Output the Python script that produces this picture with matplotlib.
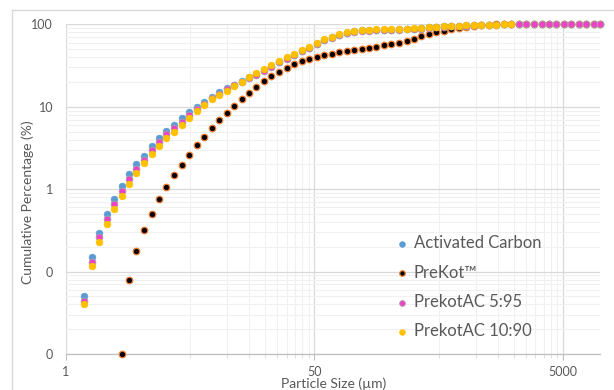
import matplotlib.pyplot as plt
from matplotlib.ticker import FixedLocator, FixedFormatter, NullFormatter
from matplotlib.lines import Line2D

plt.rcParams["font.family"] = ["Lato", "DejaVu Sans"]

size_um = [0.705, 0.814, 0.932, 1.066, 1.23, 1.409, 1.617, 1.851, 2.136, 2.46,
           2.822, 3.232, 3.729, 4.271, 4.891, 5.641, 6.462, 7.455, 8.54, 9.85,
           11.28, 13.01, 14.9, 17.1, 19.69, 22.59, 26.02, 29.85, 34.18, 39.43,
           45.14, 52.09, 59.98, 68.82, 79.25, 91.44, 104.1, 120.1, 137.6, 157.5,
           180.8, 208.2, 240.3, 277.2, 317.3, 363.4, 416.9, 477.5, 550.8, 630.6,
           727.7, 833.5, 961.4, 1101, 1261, 1455, 1666, 1921, 2200, 2538,
           2907, 3354, 3841, 4407, 5075, 5824, 6707, 7691, 8858, 10000]

activated_carbon = [0.0502, 0.148, 0.296, 0.499, 0.753, 1.094, 1.531, 2.01, 2.56, 3.33,
                    4.20, 5.11, 6.04, 7.35, 8.69, 10.0, 11.4, 13.1, 15.1, 17.0,
                    18.5, 20.5, 22.8, 24.9, 27.7, 31.0, 35.1, 38.7, 42.6, 47.6,
                    52.3, 58.5, 64.5, 69.6, 75.1, 79.0, 82.2, 84.7, 85.4, 86.3,
                    86.4, 86.6, 87.0, 88.1, 88.5, 90.0, 91.9, 93.6, 95.5, 96.0,
                    96.4, 97.5, 98.4, 98.8, 99.3, 99.7, 100, 100, 100, 100,
                    100, 100, 100, 100, 100, 100, 100, 100, 100, 100]

# PreKot starts at the 6th size class
prekot = [0.01, 0.0794, 0.177, 0.316, 0.505, 0.753, 1.076, 1.475, 1.97, 2.60,
          3.39, 4.32, 5.51, 6.89, 8.45, 10.2, 12.3, 14.6, 17.2, 20.4,
          23.4, 26.7, 29.8, 32.8, 35.8, 38.0, 40.6, 42.6, 44.1, 45.9,
          47.2, 49.0, 50.4, 52.2, 53.7, 55.8, 57.9, 60.1, 63.5, 67.2,
          71.4, 75.5, 79.9, 84.1, 87.4, 90.6, 93.2, 95.9, 97.8, 99.2,
          99.8, 100, 100, 100, 100, 100, 100, 100, 100, 100,
          100, 100, 100, 100, 100]

prekotac_5_95 = [0.044, 0.132, 0.260, 0.439, 0.668, 0.962, 1.34, 1.77, 2.29, 2.98,
                 3.74, 4.61, 5.45, 6.61, 7.96, 9.38, 10.9, 12.7, 14.4, 16.3,
                 18.2, 20.2, 22.4, 24.6, 27.5, 30.8, 35.0, 38.5, 42.3, 47.2,
                 51.9, 58.1, 64.0, 69.0, 74.4, 78.0, 81.0, 83.4, 84.2, 85.1,
                 85.1, 85.3, 85.7, 86.9, 87.3, 88.8, 90.6, 92.2, 94.1, 94.8,
                 95.5, 96.8, 97.8, 98.4, 99.1, 99.6, 100, 100, 100, 100,
                 100, 100, 100, 100, 100, 100, 100, 100, 100, 100]

prekotac_10_90 = [0.0398, 0.118, 0.228, 0.378, 0.581, 0.836, 1.17, 1.55, 2.05, 2.66,
                  3.33, 4.16, 4.92, 5.94, 7.29, 8.79, 10.4, 12.3, 13.8, 15.7,
                  17.9, 20.0, 22.8, 25.5, 28.5, 31.9, 36.3, 39.9, 43.8, 48.9,
                  53.7, 60.1, 66.1, 71.1, 76.6, 80.4, 83.4, 85.8, 86.5, 87.4,
                  87.4, 87.5, 87.8, 88.9, 89.2, 90.6, 92.4, 94.0, 95.9, 96.3,
                  96.7, 97.8, 98.6, 98.9, 99.4, 99.7, 100, 100]

x_major = [0.5, 50, 5000]
x_major_labels = ["1", "50", "5000"]
x_minor = [5, 10, 15, 20, 25, 30, 35, 40, 45,
           500, 1000, 1500, 2000, 2500, 3000, 3500, 4000, 4500]
y_major = [0.01, 0.1, 1, 10, 100]
y_major_labels = ["0", "0", "1", "10", "100"]

W, H = 614, 390
fig = plt.figure(figsize=(W / 100, H / 100), dpi=100)
left, right, top, bottom = 65.7, 600.5, 24.4, 353.9
ax = fig.add_axes([left / W, 1 - bottom / H, (right - left) / W, (bottom - top) / H])

# chart area border (Excel style), cut by the image edge on the right/bottom
fig.add_artist(Line2D([11.7 / W, 11.7 / W], [0, 1 - 10.3 / H], transform=fig.transFigure,
                      color="#D9D9D9", lw=1.0))
fig.add_artist(Line2D([11.7 / W, 1], [1 - 10.3 / H, 1 - 10.3 / H], transform=fig.transFigure,
                      color="#D9D9D9", lw=1.0))

ms = 24
n_pk = len(prekot)
ax.scatter(size_um, activated_carbon, s=ms, color="#5B9BD5", lw=0.4,
           label="Activated Carbon", zorder=3, clip_on=False)
ax.scatter(size_um[-n_pk:], prekot, s=ms - 2, facecolor="black", edgecolor="#ED7D31", lw=0.9,
           label="PreKot™", zorder=4, clip_on=False)
ax.scatter(size_um, prekotac_5_95, s=ms, facecolor="#F040C8", edgecolor="#A5A5A5", lw=0.6,
           label="PrekotAC 5:95", zorder=5, clip_on=False)
ax.scatter(size_um[:len(prekotac_10_90)], prekotac_10_90, s=ms, color="#FFC000", lw=0.4,
           label="PrekotAC 10:90", zorder=6, clip_on=False)

ax.set_xscale("log")
ax.set_yscale("log")
ax.set_xlim(0.5, 10000)
ax.set_ylim(0.01, 100)

ax.xaxis.set_major_locator(FixedLocator(x_major))
ax.xaxis.set_major_formatter(FixedFormatter(x_major_labels))
ax.xaxis.set_minor_locator(FixedLocator(x_minor))
ax.xaxis.set_minor_formatter(NullFormatter())
ax.yaxis.set_major_locator(FixedLocator(y_major))
ax.yaxis.set_major_formatter(FixedFormatter(y_major_labels))
ax.yaxis.set_minor_locator(FixedLocator([m * d for d in [0.01, 0.1, 1, 10] for m in range(2, 10)]))
ax.yaxis.set_minor_formatter(NullFormatter())

ax.grid(which="major", color="#D9D9D9", lw=0.9)
ax.grid(which="minor", color="#F0F0F0", lw=0.8)
ax.set_axisbelow(True)

for s in ["top", "right", "left"]:
    ax.spines[s].set_visible(False)
ax.spines["bottom"].set_color("#BFBFBF")
ax.spines["bottom"].set_linewidth(0.9)

ax.tick_params(axis="x", which="major", length=4, color="#BFBFBF", pad=5,
               labelsize=9, labelcolor="#595959")
ax.tick_params(axis="x", which="minor", length=3, color="#D9D9D9")
ax.tick_params(axis="y", which="both", length=0, pad=9, labelsize=9, labelcolor="#595959")

fig.text(28 / W, 1 - 202.5 / H, "Cumulative Percentage (%)", rotation=90, ha="center", va="center",
         fontsize=10, color="#595959")
fig.text(334 / W, 1 - 384 / H, "Particle Size (µm)", ha="center", va="center",
         fontsize=10, color="#595959")

leg = ax.legend(loc="center left", bbox_to_anchor=(385.5 / W, 1 - 287.5 / H),
                bbox_transform=fig.transFigure, frameon=False, fontsize=12,
                labelcolor="#595959", handletextpad=0.2, handlelength=1.0,
                labelspacing=0.8, markerscale=0.85, borderpad=0)

fig.savefig("out.png", dpi=100)
